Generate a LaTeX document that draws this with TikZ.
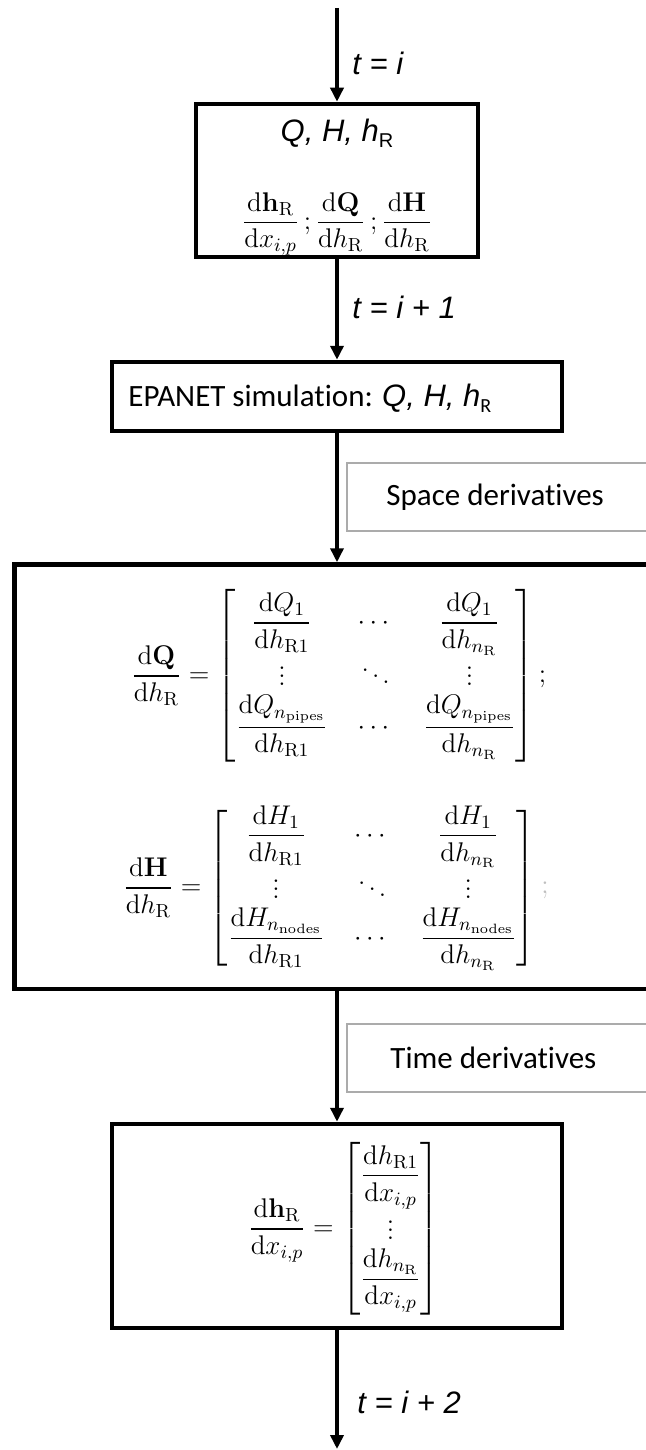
\RequirePackage{fix-cm}
\documentclass[tikz,border=0pt]{standalone}
\usepackage{amsmath}
\usepackage[no-math]{fontspec}
\newfontfamily\arialf{Liberation Sans}
\newfontfamily\calibrif[Ligatures=NoCommon]{Carlito}
\usetikzlibrary{arrows.meta}
\newcommand{\md}{\mathrm{d}}
\newcommand{\mR}{\mathrm{R}}
\newcommand{\subR}{\raisebox{-3pt}{\upshape\fontsize{10}{10}\selectfont R}}
\tikzset{
  blk/.style={draw=black, line width=2.25pt, rectangle, inner sep=0pt},
  gry/.style={draw=black!33, line width=1.2pt, rectangle, inner sep=0pt},
  flow/.style={line width=2.25pt, -{Triangle[width=6.5pt,length=7pt]}},
  lab/.style={font=\arialf\itshape\fontsize{15.5}{18}\selectfont, anchor=west, inner sep=0pt},
  txt/.style={font=\calibrif\fontsize{15.5}{18}\selectfont, anchor=west, inner sep=0pt},
  mth/.style={font=\fontsize{13.5}{16}\selectfont, inner sep=0pt},
}
\begin{document}
\begin{tikzpicture}[x=0.5pt,y=-0.5pt]
\clip (0,0) rectangle (646,1450);
\fill[white] (0,0) rectangle (646,1450);
% boxes
\node[blk, minimum width=141pt, minimum height=76.5pt] (b1) at (337,180.5) {};
\node[blk, minimum width=225pt, minimum height=34.5pt] (b2) at (337,396.5) {};
\node[gry, minimum width=156.5pt, minimum height=34pt] (sd) at (503.5,497) {};
\node[blk, minimum width=322.75pt, minimum height=212.25pt] (big) at (337.25,776.75) {};
\node[gry, minimum width=156.5pt, minimum height=34pt] (td) at (503.5,1058) {};
\node[blk, minimum width=225pt, minimum height=102pt] (b4) at (337,1226) {};
% connectors
\coordinate (top) at (337,8);
\coordinate (bot) at (337,1449);
\draw[flow] (top) -- (b1.north);
\draw[flow] (b1.south) -- (b2.north);
\draw[flow] (b2.south) -- (b2.south |- big.north);
\draw[flow] (b2.south |- big.south) -- (b4.north);
\draw[flow] (b4.south) -- (bot);
% labels
\node[lab] (l1) at (352,63) {t = i};
\node[lab] (l2) at (352,307) {t = i + 1};
\node[lab] (l3) at (357,1402) {t = i + 2};
% box 1
\node[font=\arialf\itshape\fontsize{15.5}{18}\selectfont, inner sep=0pt] (b1t) at (337,133) {Q, H, h\subR};
\node[mth] (b1m) at (337,224) {$\displaystyle \frac{\md\mathbf{h}_{\mR}}{\md x_{i,p}}\,;\frac{\md\mathbf{Q}}{\md h_{\mR}}\,;\frac{\md\mathbf{H}}{\md h_{\mR}}$};
% box 2
\node[txt] (b2t) at (128,398) {EPANET simulation: {\arialf\itshape Q, H, h}\subR};
% gray labels
\node[txt] (sdt) at (386,497) {Space derivatives};
\node[txt] (tdt) at (390,1058) {Time derivatives};
% big box equations
\node[mth, anchor=west] (eq1) at (131,676) {\arraycolsep=7.5pt$\displaystyle \frac{\md\mathbf{Q}}{\md h_{\mR}} = \begin{bmatrix} \dfrac{\md Q_1}{\md h_{\mR 1}} & \cdots & \dfrac{\md Q_1}{\md h_{n_{\mR}}} \\ \vdots & \ddots & \vdots \\ \dfrac{\md Q_{n_{\mathrm{pipes}}}}{\md h_{\mR 1}} & \cdots & \dfrac{\md Q_{n_{\mathrm{pipes}}}}{\md h_{n_{\mR}}} \end{bmatrix};$};
\node[mth, anchor=west] (eq2) at (123,888) {\arraycolsep=7.5pt$\displaystyle \frac{\md\mathbf{H}}{\md h_{\mR}} = \begin{bmatrix} \dfrac{\md H_1}{\md h_{\mR 1}} & \cdots & \dfrac{\md H_1}{\md h_{n_{\mR}}} \\ \vdots & \ddots & \vdots \\ \dfrac{\md H_{n_{\mathrm{nodes}}}}{\md h_{\mR 1}} & \cdots & \dfrac{\md H_{n_{\mathrm{nodes}}}}{\md h_{n_{\mR}}} \end{bmatrix}$};
\node[mth, text=black!25] (gs) at (545,890) {;};
% box 4 equation
\node[mth, anchor=west] (eq3) at (248,1229) {$\displaystyle \frac{\md\mathbf{h}_{\mR}}{\md x_{i,p}} = \begin{bmatrix} \dfrac{\md h_{\mR 1}}{\md x_{i,p}} \\ \vdots \\ \dfrac{\md h_{n_{\mR}}}{\md x_{i,p}} \end{bmatrix}$};
\end{tikzpicture}
\end{document}
